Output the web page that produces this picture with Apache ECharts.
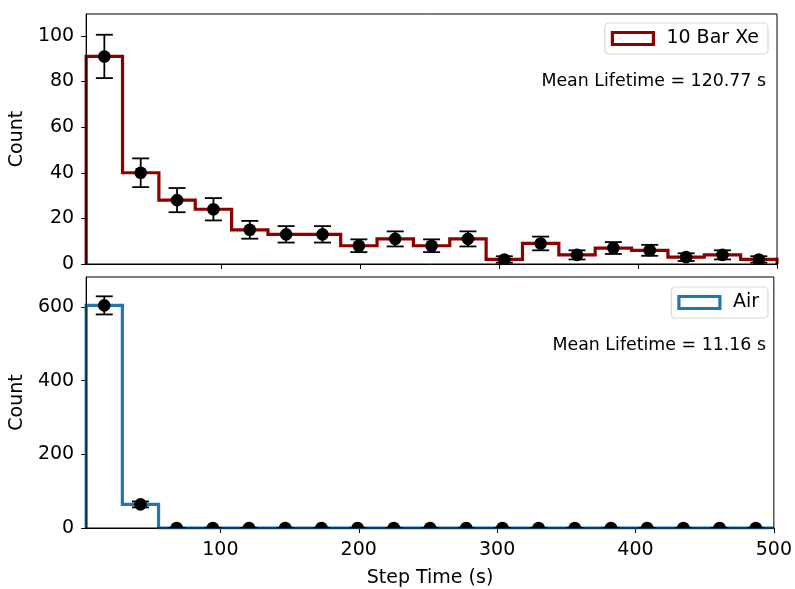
<!DOCTYPE html>
<html>
<head>
<meta charset="utf-8">
<script src="https://cdn.jsdelivr.net/npm/echarts@6/dist/echarts.min.js"></script>
<style>html,body{margin:0;padding:0;background:#fff}#c{width:795px;height:589px}</style>
</head>
<body>
<div id="c"></div>
<script>
// Histogram bin edges (Step Time, s)
const binEdges = [3, 29.16, 55.32, 81.47, 107.63, 133.79, 159.95, 186.11, 212.26, 238.42, 264.58, 290.74, 316.89, 343.05, 369.21, 395.37, 421.53, 447.68, 473.84, 500];
const binCenters = [16.08, 42.24, 68.39, 94.55, 120.71, 146.87, 173.03, 199.18, 225.34, 251.5, 277.66, 303.82, 329.97, 356.13, 382.29, 408.45, 434.61, 460.76, 486.92];

// 10 Bar Xe counts and errors
const xeCounts = [91, 40, 28, 24, 15, 13, 13, 8, 11, 8, 11, 2, 9, 4, 7, 6, 3, 4, 2];
const xeErrors = [9.5, 6.3, 5.3, 4.9, 3.9, 3.6, 3.6, 2.8, 3.3, 2.8, 3.3, 1.4, 3.0, 2.0, 2.6, 2.4, 1.7, 2.0, 1.4];

// Air counts and errors
const airCounts = [604, 64, 0, 0, 0, 0, 0, 0, 0, 0, 0, 0, 0, 0, 0, 0, 0, 0, 0];
const airErrors = [24.6, 8.0, 0, 0, 0, 0, 0, 0, 0, 0, 0, 0, 0, 0, 0, 0, 0, 0, 0];

const xTicks = [100, 200, 300, 400, 500];
const yTicksTop = [0, 20, 40, 60, 80, 100];
const yTicksBottom = [0, 200, 400, 600];

const xeLabel = '10 Bar Xe';
const airLabel = 'Air';
const xeNote = 'Mean Lifetime = 120.77 s';
const airNote = 'Mean Lifetime = 11.16 s';

const FONT = 'DejaVu Sans';
const FS = 19;

function stepOutline(edges, counts) {
  const pts = [[edges[0], 0]];
  for (let i = 0; i < counts.length; i++) {
    pts.push([edges[i], counts[i]]);
    pts.push([edges[i + 1], counts[i]]);
  }
  pts.push([edges[edges.length - 1], 0]);
  return pts;
}
function pointData(centers, counts, errs) {
  return centers.map((c, i) => [c, counts[i], errs[i]]);
}
function errRender(params, api) {
  const x = api.value(0), y = api.value(1), e = api.value(2);
  const c = api.coord([x, y]);
  const lo = api.coord([x, y - e]);
  const hi = api.coord([x, y + e]);
  const cw = 8.5;
  const style = { stroke: '#000', lineWidth: 1.8 };
  return {
    type: 'group',
    children: [
      { type: 'line', shape: { x1: lo[0], y1: lo[1], x2: hi[0], y2: hi[1] }, style },
      { type: 'line', shape: { x1: lo[0] - cw, y1: lo[1], x2: lo[0] + cw, y2: lo[1] }, style },
      { type: 'line', shape: { x1: hi[0] - cw, y1: hi[1], x2: hi[0] + cw, y2: hi[1] }, style },
      { type: 'circle', shape: { cx: c[0], cy: c[1], r: 6.3 }, style: { fill: '#000' } }
    ]
  };
}

const axisCommon = {
  axisLine: { show: true, lineStyle: { color: '#000', width: 1 } },
  axisTick: { show: true, inside: false, length: 5, lineStyle: { color: '#000', width: 1 } },
  splitLine: { show: false },
  axisLabel: { color: '#000', fontFamily: FONT, fontSize: FS }
};

function legendCfg(name, color, top) {
  return {
    top: top, right: 27,
    orient: 'vertical',
    padding: [6, 9, 6, 6],
    borderColor: '#d9d9d9', borderWidth: 1.2, borderRadius: 4,
    backgroundColor: 'rgba(255,255,255,0.8)',
    itemWidth: 41, itemHeight: 12,
    data: [{ name: name, icon: 'rect', itemStyle: { color: '#fff', borderColor: color, borderWidth: 3.2 } }],
    textStyle: { fontFamily: FONT, fontSize: FS, color: '#000', padding: [0, 0, 0, 8] },
    selectedMode: false
  };
}

const option = {
  animation: false,
  backgroundColor: '#fff',
  grid: [
    { left: 86, top: 14, width: 691, height: 250, show: true, borderColor: '#000', borderWidth: 1, z: 10, backgroundColor: 'transparent' },
    { left: 86, top: 277, width: 691, height: 251, show: true, borderColor: '#000', borderWidth: 1, z: 10, backgroundColor: 'transparent' }
  ],
  legend: [legendCfg(xeLabel, '#8b0000', 23), legendCfg(airLabel, '#1f77b4', 287)],
  graphic: [
    { type: 'text', right: 29, top: 73, style: { text: xeNote, fontFamily: FONT, fontSize: 17.4, fill: '#000' } },
    { type: 'text', right: 29, top: 337, style: { text: airNote, fontFamily: FONT, fontSize: 17.4, fill: '#000' } }
  ],
  xAxis: [
    Object.assign({}, axisCommon, {
      type: 'value', gridIndex: 0, min: 3, max: 500,
      axisTick: Object.assign({}, axisCommon.axisTick, { customValues: xTicks }),
      axisLabel: Object.assign({}, axisCommon.axisLabel, { show: false, customValues: xTicks })
    }),
    Object.assign({}, axisCommon, {
      type: 'value', gridIndex: 1, min: 3, max: 500,
      axisTick: Object.assign({}, axisCommon.axisTick, { customValues: xTicks }),
      axisLabel: Object.assign({}, axisCommon.axisLabel, { margin: 13, customValues: xTicks }),
      name: 'Step Time (s)', nameLocation: 'middle', nameGap: 41,
      nameTextStyle: { fontFamily: FONT, fontSize: FS, color: '#000' }
    })
  ],
  yAxis: [
    Object.assign({}, axisCommon, {
      type: 'value', gridIndex: 0, min: 0, max: 109.6,
      axisTick: Object.assign({}, axisCommon.axisTick, { customValues: yTicksTop }),
      axisLabel: Object.assign({}, axisCommon.axisLabel, { margin: 12, customValues: yTicksTop }),
      name: 'Count', nameLocation: 'middle', nameGap: 57,
      nameTextStyle: { fontFamily: FONT, fontSize: FS, color: '#000' }
    }),
    Object.assign({}, axisCommon, {
      type: 'value', gridIndex: 1, min: 0, max: 681,
      axisTick: Object.assign({}, axisCommon.axisTick, { customValues: yTicksBottom }),
      axisLabel: Object.assign({}, axisCommon.axisLabel, { margin: 12, customValues: yTicksBottom }),
      name: 'Count', nameLocation: 'middle', nameGap: 57,
      nameTextStyle: { fontFamily: FONT, fontSize: FS, color: '#000' }
    })
  ],
  series: [
    {
      name: xeLabel, type: 'line', xAxisIndex: 0, yAxisIndex: 0,
      data: stepOutline(binEdges, xeCounts), showSymbol: false, symbol: 'none',
      lineStyle: { color: '#8b0000', width: 3.2, join: 'miter' }, itemStyle: { color: '#8b0000' },
      clip: true, z: 2
    },
    {
      name: 'xeErr', type: 'custom', xAxisIndex: 0, yAxisIndex: 0,
      renderItem: errRender, data: pointData(binCenters, xeCounts, xeErrors),
      encode: { x: 0, y: 1 }, clip: true, z: 3
    },
    {
      name: airLabel, type: 'line', xAxisIndex: 1, yAxisIndex: 1,
      data: stepOutline(binEdges, airCounts), showSymbol: false, symbol: 'none',
      lineStyle: { color: '#1f77b4', width: 3.2, join: 'miter' }, itemStyle: { color: '#1f77b4' },
      clip: true, z: 2
    },
    {
      name: 'airErr', type: 'custom', xAxisIndex: 1, yAxisIndex: 1,
      renderItem: errRender, data: pointData(binCenters, airCounts, airErrors),
      encode: { x: 0, y: 1 }, clip: true, z: 3
    }
  ]
};

const chart = echarts.init(document.getElementById('c'), null, { renderer: 'canvas' });
chart.setOption(option);
</script>
</body>
</html>
